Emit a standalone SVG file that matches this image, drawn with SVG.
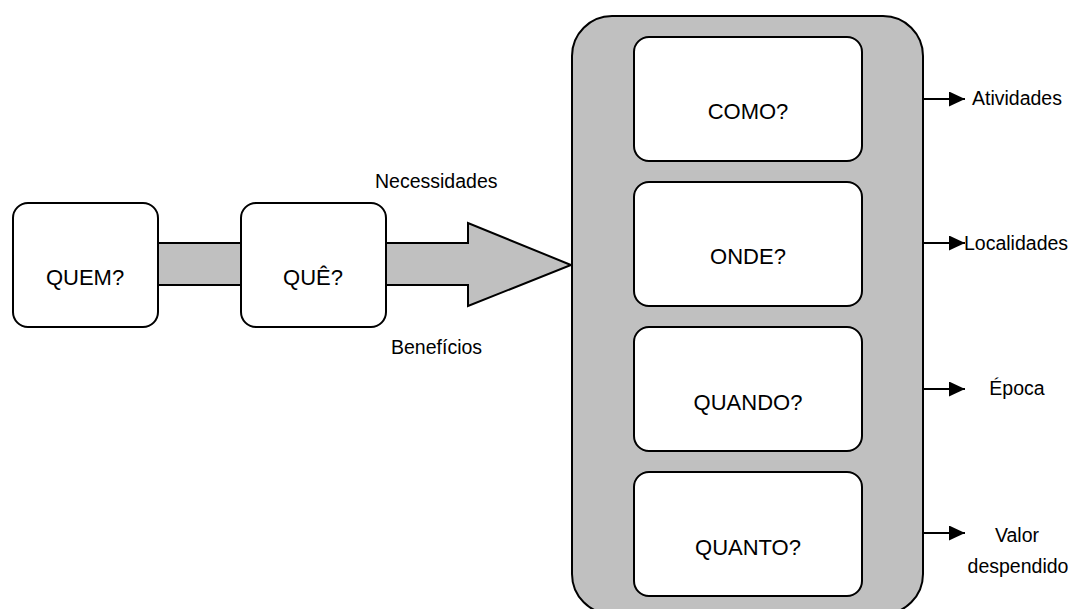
<svg xmlns="http://www.w3.org/2000/svg" width="1070" height="609" viewBox="0 0 1070 609">
<style>
.box{fill:#fff;stroke:#000;stroke-width:2}
.gray{fill:#c0c0c0;stroke:#000;stroke-width:2}
.t{font-family:"Liberation Sans",Arial,sans-serif;font-size:22px;fill:#000;text-anchor:middle}
.l{font-family:"Liberation Sans",Arial,sans-serif;font-size:19.5px;fill:#000}
.c{stroke:#000;stroke-width:2;fill:none}
</style>
<defs>
<marker id="ah" viewBox="0 0 16 15" refX="16" refY="7.5" markerWidth="16" markerHeight="15" markerUnits="userSpaceOnUse" orient="auto">
<path d="M0,0 L16,7.5 L0,15 Z" fill="#000"/>
</marker>
</defs>
<g id="connectors">
<rect class="gray" x="150" y="243" width="100" height="42"/>
<path class="gray" d="M386,243 L468,243 L468,223 L571,265 L468,306 L468,285 L386,285"/>
<line class="c" x1="923" y1="99" x2="965" y2="99" marker-end="url(#ah)"/>
<line class="c" x1="923" y1="243" x2="965" y2="243" marker-end="url(#ah)"/>
<line class="c" x1="923" y1="389" x2="965" y2="389" marker-end="url(#ah)"/>
<line class="c" x1="923" y1="533" x2="965" y2="533" marker-end="url(#ah)"/>
</g>
<g id="container">
<rect class="gray" x="572" y="16" width="351" height="598" rx="40" ry="40"/>
</g>
<g id="quem">
<rect class="box" x="13" y="203" width="145" height="124" rx="15" ry="15"/>
<text class="t" x="85" y="285">QUEM?</text>
</g>
<g id="que">
<rect class="box" x="241" y="203" width="145" height="124" rx="15" ry="15"/>
<text class="t" x="313" y="285">QUÊ?</text>
</g>
<g id="como">
<rect class="box" x="634" y="37" width="228" height="124" rx="15" ry="15"/>
<text class="t" x="748" y="119">COMO?</text>
</g>
<g id="onde">
<rect class="box" x="634" y="182" width="228" height="124" rx="15" ry="15"/>
<text class="t" x="748" y="264">ONDE?</text>
</g>
<g id="quando">
<rect class="box" x="634" y="327" width="228" height="124" rx="15" ry="15"/>
<text class="t" x="748" y="410">QUANDO?</text>
</g>
<g id="quanto">
<rect class="box" x="634" y="472" width="228" height="124" rx="15" ry="15"/>
<text class="t" x="748" y="555">QUANTO?</text>
</g>
<g id="labels">
<text class="l" x="375" y="188">Necessidades</text>
<text class="l" x="391" y="354">Benefícios</text>
<text class="l" x="972" y="105">Atividades</text>
<text class="l" x="964" y="250">Localidades</text>
<text class="l" x="1017" y="395" text-anchor="middle">Época</text>
<text class="l" x="1017" y="542" text-anchor="middle">Valor</text>
<text class="l" x="1018" y="573" text-anchor="middle">despendido</text>
</g>
</svg>
